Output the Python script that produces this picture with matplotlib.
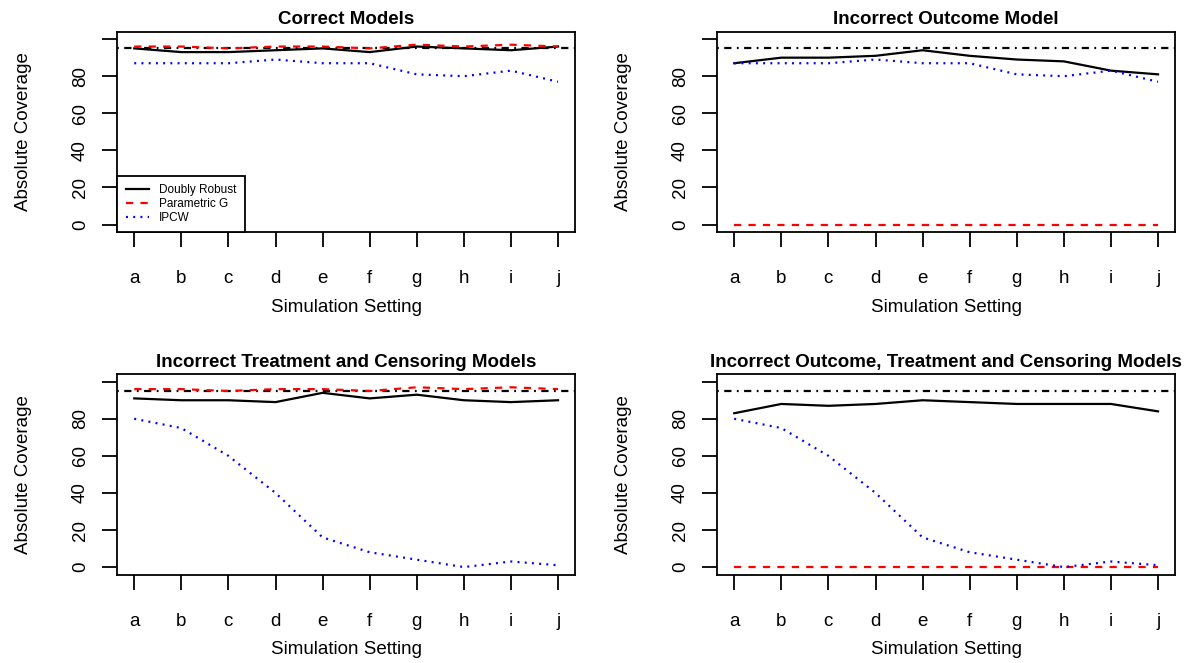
import numpy as np
import matplotlib
matplotlib.use("Agg")
import matplotlib.pyplot as plt

plt.rcParams['font.family'] = ['Liberation Sans', 'DejaVu Sans']
plt.rcParams['lines.scale_dashes'] = False

settings = ['a', 'b', 'c', 'd', 'e', 'f', 'g', 'h', 'i', 'j']
target = 95

titles = ["Correct Models",
          "Incorrect Outcome Model",
          "Incorrect Treatment and Censoring Models",
          "Incorrect Outcome, Treatment and Censoring Models"]

# absolute coverage (%) for each panel
dr_cov = [
    [95, 93, 93, 94, 95, 93, 96, 95, 94, 96],
    [87, 90, 90, 91, 94, 91, 89, 88, 83, 81],
    [91, 90, 90, 89, 94, 91, 93, 90, 89, 90],
    [83, 88, 87, 88, 90, 89, 88, 88, 88, 84],
]
pg_cov = [
    [96, 96, 95, 96, 96, 95, 97, 96, 97, 96],
    [0, 0, 0, 0, 0, 0, 0, 0, 0, 0],
    [96, 96, 95, 96, 96, 95, 97, 96, 97, 96],
    [0, 0, 0, 0, 0, 0, 0, 0, 0, 0],
]
ipcw_cov = [
    [87, 87, 87, 89, 87, 87, 81, 80, 83, 77],
    [87, 87, 87, 89, 87, 87, 81, 80, 83, 77],
    [80, 75, 60, 40, 16, 8, 4, 0, 3, 1],
    [80, 75, 60, 40, 16, 8, 4, 0, 3, 1],
]

W, H = 1196, 663
fig = plt.figure(figsize=(W / 100, H / 100), dpi=100)

# panel boxes in pixels: left, top, right, bottom
boxes = [(117.3, 31.7, 575, 232),
         (717.3, 31.7, 1175, 232),
         (117.3, 374.3, 575, 574.5),
         (717.3, 374.3, 1175, 574.5)]

lw = 1.3    # box / ticks
dlw = 1.6   # data lines
fs = 13.5
x = np.arange(1, 11)

for k, (l, t, r, b) in enumerate(boxes):
    ax = fig.add_axes([l / W, 1 - b / H, (r - l) / W, (b - t) / H])
    ax.axhline(target, color='black', lw=dlw, dashes=(1.3, 3.9, 5.2, 3.9))
    ax.plot(x, dr_cov[k], color='black', lw=dlw, label='Doubly Robust')
    ax.plot(x, pg_cov[k], color='red', lw=dlw, dashes=(5.2, 5.2), label='Parametric G')
    ax.plot(x, ipcw_cov[k], color='blue', lw=dlw, dashes=(1.4, 3.8), label='IPCW')

    ax.set_xlim(0.64, 10.36)
    ax.set_ylim(-4, 104)
    ax.set_xticks(x)
    ax.set_xticklabels(settings, fontsize=fs)
    ax.set_yticks(range(0, 101, 20))
    ax.set_yticklabels(['0', '20', '40', '60', '80', ''], fontsize=fs,
                       rotation=90, va='center')
    ax.tick_params(axis='x', length=10.5, width=lw, pad=17)
    ax.tick_params(axis='y', length=10.5, width=lw, pad=10)
    for s in ax.spines.values():
        s.set_linewidth(lw)

    ax.set_title(titles[k], fontsize=fs, fontweight='bold', pad=5.5)
    ax.set_xlabel('Simulation Setting', fontsize=fs, labelpad=8.5)
    ax.set_ylabel('Absolute Coverage', fontsize=fs, labelpad=28.5)

    if k == 0:
        leg = ax.legend(loc='lower left', bbox_to_anchor=(0, 0), borderaxespad=0,
                        fontsize=8.5, fancybox=False, edgecolor='black',
                        framealpha=1, handlelength=2.0, handletextpad=0.85,
                        labelspacing=0.15, borderpad=0.7)
        leg.get_frame().set_linewidth(lw)

fig.savefig('out.png', dpi=100)
